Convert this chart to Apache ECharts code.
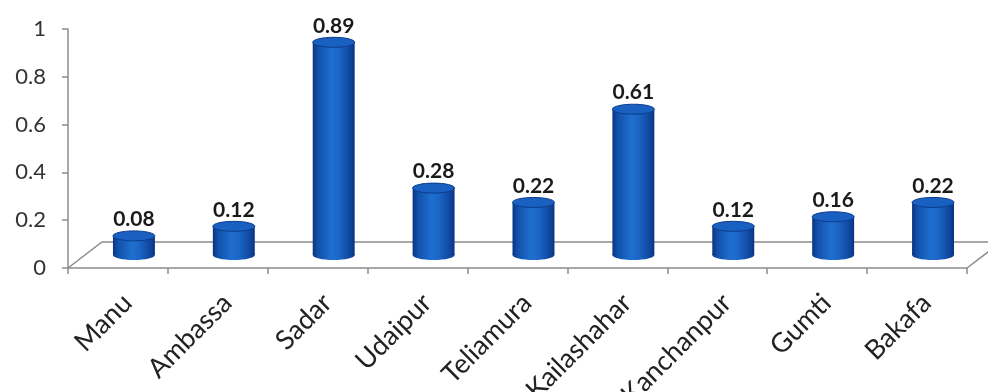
<!DOCTYPE html>
<html>
<head>
<meta charset="utf-8">
<script src="https://cdn.jsdelivr.net/npm/echarts@6/dist/echarts.min.js"></script>
<style>
  html, body { margin: 0; padding: 0; background: #fff; }
  #chart { width: 988px; height: 392px; }
</style>
</head>
<body>
<div id="chart"></div>
<script>
// Station names along the x axis
const categories = ['Manu', 'Ambassa', 'Sadar', 'Udaipur', 'Teliamura', 'Kailashahar', 'Kanchanpur', 'Gumti', 'Bakafa'];
// Value for each station
const values = [0.08, 0.12, 0.89, 0.28, 0.22, 0.61, 0.12, 0.16, 0.22];
// Value axis range and step
const yMin = 0;
const yMax = 1;
const yStep = 0.2;

const chart = echarts.init(document.getElementById('chart'));

// Depth offsets of the pseudo-3D floor, as fractions of a category band
const DEPTH_X = 0.34;
const DEPTH_Y = 0.26;
const LINE_GREY = '#8c8c8c';

function renderFloor(params, api) {
  const band = api.size([1, 0])[0];
  const first = api.coord([0, 0]);
  const last = api.coord([categories.length - 1, 0]);
  const x0 = first[0] - band / 2;
  const x1 = last[0] + band / 2;
  const y0 = first[1];
  const dx = band * DEPTH_X;
  const dy = band * DEPTH_Y;
  return {
    type: 'polyline',
    shape: { points: [[x0, y0], [x0 + dx, y0 - dy], [x1 + dx, y0 - dy], [x1, y0]] },
    style: { fill: null, stroke: LINE_GREY, lineWidth: 1.5 }
  };
}

function renderCylinder(params, api) {
  const idx = api.value(0);
  const val = api.value(1);
  const band = api.size([1, 0])[0];
  const base = api.coord([idx, 0]);
  const top = api.coord([idx, val]);
  const cx = base[0] + band * 0.16;
  const shiftY = band * 0.13;
  const yBase = base[1] - shiftY;
  const yTop = top[1] - shiftY;
  const w = band * 0.42;
  const rx = w / 2;
  const ry = band * 0.05;
  const bodyFill = new echarts.graphic.LinearGradient(0, 0, 1, 0, [
    { offset: 0, color: '#0a3482' },
    { offset: 0.12, color: '#1150a8' },
    { offset: 0.45, color: '#1f6fd0' },
    { offset: 0.62, color: '#1b66c6' },
    { offset: 0.9, color: '#0f459c' },
    { offset: 1, color: '#09337f' }
  ]);
  return {
    type: 'group',
    children: [
      {
        type: 'ellipse',
        shape: { cx: cx, cy: yBase, rx: rx, ry: ry },
        style: { fill: bodyFill }
      },
      {
        type: 'rect',
        shape: { x: cx - rx, y: yTop, width: w, height: yBase - yTop },
        style: { fill: bodyFill }
      },
      {
        type: 'ellipse',
        shape: { cx: cx, cy: yTop, rx: rx, ry: ry },
        style: { fill: '#1a60c0', stroke: '#0c3c8e', lineWidth: 1 }
      },
      {
        type: 'text',
        style: {
          text: String(val.toFixed(2)),
          x: cx,
          y: yTop - ry - 1,
          align: 'center',
          verticalAlign: 'bottom',
          fontFamily: 'Lato',
          fontWeight: 'bold',
          fontSize: 21,
          fill: '#1a1a1a'
        }
      }
    ]
  };
}

chart.setOption({
  animation: false,
  backgroundColor: '#ffffff',
  grid: { left: 68, right: 21, top: 29, bottom: 124, containLabel: false, outerBoundsMode: 'none' },
  xAxis: {
    type: 'category',
    data: categories,
    boundaryGap: true,
    axisLine: { show: true, lineStyle: { color: LINE_GREY, width: 1.5 } },
    axisTick: { show: true, length: 6, lineStyle: { color: LINE_GREY, width: 1.5 } },
    axisLabel: {
      interval: 0,
      rotate: 45,
      margin: 4,
      verticalAlign: 'top',
      padding: [12, 12, 0, 0],
      fontFamily: 'Lato',
      fontSize: 27,
      color: '#222'
    }
  },
  yAxis: {
    type: 'value',
    min: yMin,
    max: yMax,
    interval: yStep,
    axisLine: { show: true, lineStyle: { color: LINE_GREY, width: 1.5 } },
    axisTick: { show: true, length: 6, lineStyle: { color: LINE_GREY, width: 1.5 } },
    splitLine: { show: false },
    axisLabel: {
      margin: 22,
      fontFamily: 'Lato',
      fontSize: 22,
      color: '#333'
    }
  },
  series: [
    {
      type: 'custom',
      z: 1,
      silent: true,
      data: [[0, 0]],
      renderItem: renderFloor
    },
    {
      type: 'custom',
      z: 2,
      data: values.map(function (v, i) { return [i, v]; }),
      encode: { x: 0, y: 1 },
      renderItem: renderCylinder
    }
  ]
});
</script>
</body>
</html>
